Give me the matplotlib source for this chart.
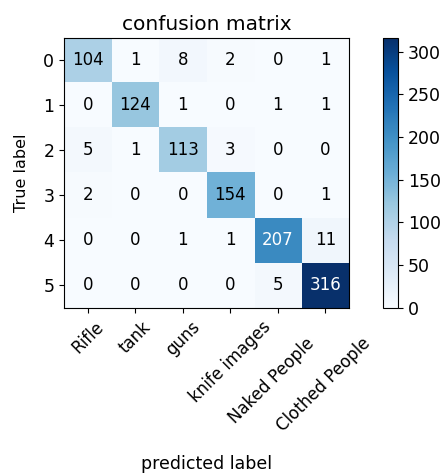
import numpy as np
import matplotlib
matplotlib.use("Agg")
import matplotlib.pyplot as plt
from matplotlib.transforms import ScaledTranslation

classes = ["Rifle", "tank", "guns", "knife images", "Naked People", "Clothed People"]
row_labels = ["0", "1", "2", "3", "4", "5"]
cm = np.array([
    [104, 1, 8, 2, 0, 1],
    [0, 124, 1, 0, 1, 1],
    [5, 1, 113, 3, 0, 0],
    [2, 0, 0, 154, 0, 1],
    [0, 0, 1, 1, 207, 11],
    [0, 0, 0, 0, 5, 316],
])

plt.rcParams["font.size"] = 12
fig = plt.figure(figsize=(4.42, 4.73), dpi=100)
ax = fig.add_axes([0.145, 0.349, 0.645, 0.571])
cax = fig.add_axes([0.867, 0.349, 0.034, 0.571])

im = ax.imshow(cm, interpolation="nearest", cmap=plt.cm.Blues, aspect="auto")
ax.set_title("confusion matrix", fontsize=14.5)
cb = fig.colorbar(im, cax=cax)
cb.set_ticks([0, 50, 100, 150, 200, 250, 300])
cb.ax.tick_params(labelsize=12.5)

ticks = np.arange(len(classes))
ax.set_xticks(ticks)
ax.set_xticklabels(classes, rotation=45, ha="center", fontsize=12)
ax.set_yticks(ticks)
ax.set_yticklabels(row_labels, fontsize=12.5)

# the two rightmost class names sit a little lower than the rest
shifts = {"Naked People": (-6, -17), "Clothed People": (-2, -17)}
for lbl in ax.get_xticklabels():
    dx, dy = shifts.get(lbl.get_text(), (0, 0))
    if dx or dy:
        lbl.set_transform(lbl.get_transform() +
                          ScaledTranslation(dx / 100, dy / 100, fig.dpi_scale_trans))

thresh = cm.max() / 2.0
for i in range(cm.shape[0]):
    for j in range(cm.shape[1]):
        ax.text(j, i, str(cm[i, j]), ha="center", va="center", fontsize=12,
                color="white" if cm[i, j] > thresh else "black")

ax.set_ylabel("True label", fontsize=11.5, labelpad=10)
ax.set_xlabel("predicted label", fontsize=12.5, labelpad=14)

fig.savefig("out.png", dpi=100)
